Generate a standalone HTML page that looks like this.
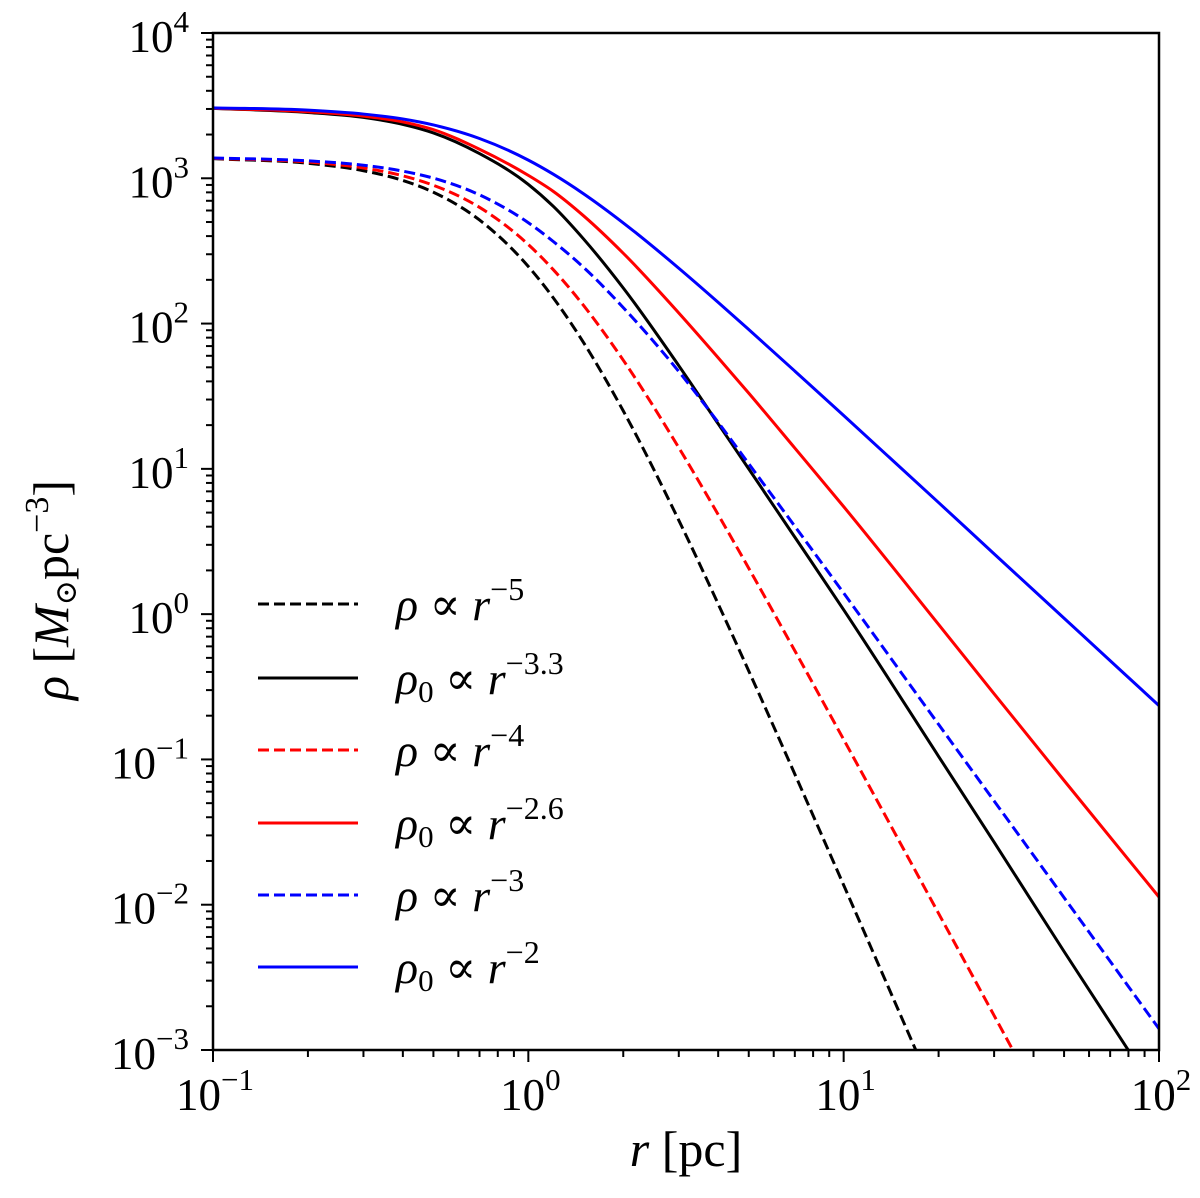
<!DOCTYPE html>
<html><head><meta charset="utf-8"><style>
html,body{margin:0;padding:0;background:#fff;overflow:hidden;width:1200px;height:1198px;}
svg{display:block;}
svg text{font-family:"Liberation Serif","DejaVu Serif",serif;fill:#000;}
</style></head><body>
<svg id="chart" width="1200" height="1198" viewBox="0 0 1200 1198" xmlns="http://www.w3.org/2000/svg">
<defs><clipPath id="plotclip"><rect x="213" y="33" width="946" height="1017"/></clipPath></defs>
<g id="curves" clip-path="url(#plotclip)"></g>
<rect x="213" y="33" width="946" height="1017" fill="none" stroke="#000" stroke-width="2.5"/>
<g id="ticks"></g>
<text x="686" y="1166" font-size="50" text-anchor="middle"><tspan font-style="italic">r</tspan> [pc]</text>
<text transform="translate(68,590) rotate(-90)" font-size="50" text-anchor="middle"><tspan font-style="italic">ρ</tspan> [<tspan font-style="italic">M</tspan><tspan font-size="30" dy="8">⊙</tspan><tspan dy="-8">pc</tspan><tspan font-size="34" dy="-20">−3</tspan><tspan dy="20">]</tspan></text>
<g id="legend"></g>
</svg>
<script>
const rValues = [0.1,0.2,0.3,0.4,0.5,0.7,1,1.2,1.5,2,3,4,5,7,10,20,30,50,100];
const blackDashed = [3.135,3.103,3.052,2.985,2.904,2.713,2.393,2.177,1.866,1.399,0.646,0.070,-0.391,-1.101,-1.865,-3.36,-4.2,-5.3,-6.85];
const blackSolid = [3.481,3.453,3.419,3.371,3.312,3.170,2.958,2.807,2.580,2.245,1.710,1.310,1.000,0.530,0.030,-0.979,-1.570,-2.322,-3.325];
const redDashed = [3.137,3.112,3.071,3.017,2.952,2.800,2.544,2.371,2.122,1.748,1.146,0.685,0.316,-0.252,-0.863,-2.060,-2.763,-3.650,-4.854];
const redSolid = [3.482,3.458,3.428,3.388,3.335,3.200,3.020,2.910,2.740,2.484,2.073,1.765,1.521,1.143,0.740,-0.071,-0.548,-1.145,-1.947];
const blueDashed = [3.140,3.120,3.090,3.049,3.001,2.886,2.694,2.565,2.385,2.110,1.670,1.320,1.035,0.605,0.145,-0.759,-1.286,-1.951,-2.854];
const blueSolid = [3.485,3.469,3.442,3.408,3.367,3.274,3.125,3.028,2.892,2.693,2.381,2.146,1.959,1.673,1.367,0.768,0.415,-0.028,-0.630];
const xTickExps = [-1,0,1,2];
const yTickExps = [-3,-2,-1,0,1,2,3,4];
const legendSymbols = ["ρ","ρ","ρ","ρ","ρ","ρ"];
const legendSubs = ["","0","","0","","0"];
const legendExps = ["−5","−3.3","−4","−2.6","−3","−2"];

const NS="http://www.w3.org/2000/svg";
const X0=213,X1=1159,Y0=1050,Y1=33;
function xs(r){return X0+(Math.log10(r)+1)/3*(X1-X0);}
function ys(lg){return Y0-(lg+3)/7*(Y0-Y1);}
function mk(t,parent){const e=document.createElementNS(NS,t);parent.appendChild(e);return e;}

const series=[
 {v:blackDashed,c:"#000",d:true,n:"black-dashed-r-5"},
 {v:blackSolid,c:"#000",d:false,n:"black-solid-r-3.3"},
 {v:redDashed,c:"#f00",d:true,n:"red-dashed-r-4"},
 {v:redSolid,c:"#f00",d:false,n:"red-solid-r-2.6"},
 {v:blueDashed,c:"#00f",d:true,n:"blue-dashed-r-3"},
 {v:blueSolid,c:"#00f",d:false,n:"blue-solid-r-2"}];
const cg=document.getElementById('curves');
series.forEach(s=>{
 const all=rValues.map((r,i)=>[xs(r),ys(s.v[i]),s.v[i]]);
 const P=[];
 for(const p of all){P.push(p);if(p[2]< -3)break;}
 const n=P.length;
 const m=P.map((p,i)=>{
  if(i===0)return (P[1][1]-P[0][1])/(P[1][0]-P[0][0]);
  if(i===n-1)return (P[n-1][1]-P[n-2][1])/(P[n-1][0]-P[n-2][0]);
  const h0=P[i][0]-P[i-1][0],h1=P[i+1][0]-P[i][0];
  const d0=(P[i][1]-P[i-1][1])/h0,d1=(P[i+1][1]-P[i][1])/h1;
  return (h1*d0+h0*d1)/(h0+h1);
 });
 let d="M"+P[0][0].toFixed(2)+","+P[0][1].toFixed(2);
 for(let i=0;i<n-1;i++){
  const h=P[i+1][0]-P[i][0];
  const c1x=P[i][0]+h/3,c1y=P[i][1]+m[i]*h/3;
  const c2x=P[i+1][0]-h/3,c2y=P[i+1][1]-m[i+1]*h/3;
  d+=" C"+c1x.toFixed(2)+","+c1y.toFixed(2)+" "+c2x.toFixed(2)+","+c2y.toFixed(2)+" "+P[i+1][0].toFixed(2)+","+P[i+1][1].toFixed(2);
 }
 const p=mk('path',cg);
 
 
 p.setAttribute('d',d);p.setAttribute('fill','none');p.setAttribute('stroke',s.c);p.setAttribute('stroke-width','3');
 if(s.d)p.setAttribute('stroke-dasharray','11 5');
});

const tg=document.getElementById('ticks');
function line(x1,y1,x2,y2,name){const l=mk('line',tg);
 
 
 l.setAttribute('x1',x1);l.setAttribute('y1',y1);l.setAttribute('x2',x2);l.setAttribute('y2',y2);l.setAttribute('stroke','#000');l.setAttribute('stroke-width','2');}
function label(x,y,e,anchor,name){const t=mk('text',tg);
 
 
 t.setAttribute('x',x);t.setAttribute('y',y);t.setAttribute('font-size','45');t.setAttribute('text-anchor',anchor);
 const a=mk('tspan',t);a.textContent='10';const b=mk('tspan',t);b.setAttribute('font-size','31');b.setAttribute('dy','-20');b.textContent=e<0?'−'+(-e):String(e);}
xTickExps.forEach(e=>{const x=xs(Math.pow(10,e));line(x,Y0,x,Y0+12,'x-major-tick');label(x+2,1110,e,'middle','x-tick-label');
 if(e<2)for(let k=2;k<10;k++){const xm=xs(k*Math.pow(10,e));line(xm,Y0,xm,Y0+7,'x-minor-tick');}});
yTickExps.forEach(e=>{const y=ys(e);line(X0,y,X0-12,y,'y-major-tick');label(189,y+19,e,'end','y-tick-label');
 if(e<4)for(let k=2;k<10;k++){const ym=ys(e+Math.log10(k));line(X0,ym,X0-7,ym,'y-minor-tick');}});

const lg=document.getElementById('legend');
const ly=[604,678,750,823,895,967];
series.forEach((s,i)=>{
 const l=mk('line',lg);
 
 
 l.setAttribute('x1',258);l.setAttribute('x2',358);l.setAttribute('y1',ly[i]);l.setAttribute('y2',ly[i]);
 l.setAttribute('stroke',s.c);l.setAttribute('stroke-width','3');if(s.d)l.setAttribute('stroke-dasharray','11 5');
 const t=mk('text',lg);
 
 
 t.setAttribute('x',396);t.setAttribute('y',ly[i]+16);t.setAttribute('font-size','46');
 const a=mk('tspan',t);a.setAttribute('font-style','italic');a.textContent=legendSymbols[i];
 if(legendSubs[i]){const sb=mk('tspan',t);sb.setAttribute('font-size','31');sb.setAttribute('dy','8');sb.textContent=legendSubs[i];
  const sp=mk('tspan',t);sp.setAttribute('dy','-8');sp.textContent=' ∝ ';}
 else{const sp=mk('tspan',t);sp.textContent=' ∝ ';}
 const b=mk('tspan',t);b.setAttribute('font-style','italic');b.textContent='r';
 const c=mk('tspan',t);c.setAttribute('font-size','32');c.setAttribute('dy','-20');c.textContent=legendExps[i];
});
</script>
</body></html>
